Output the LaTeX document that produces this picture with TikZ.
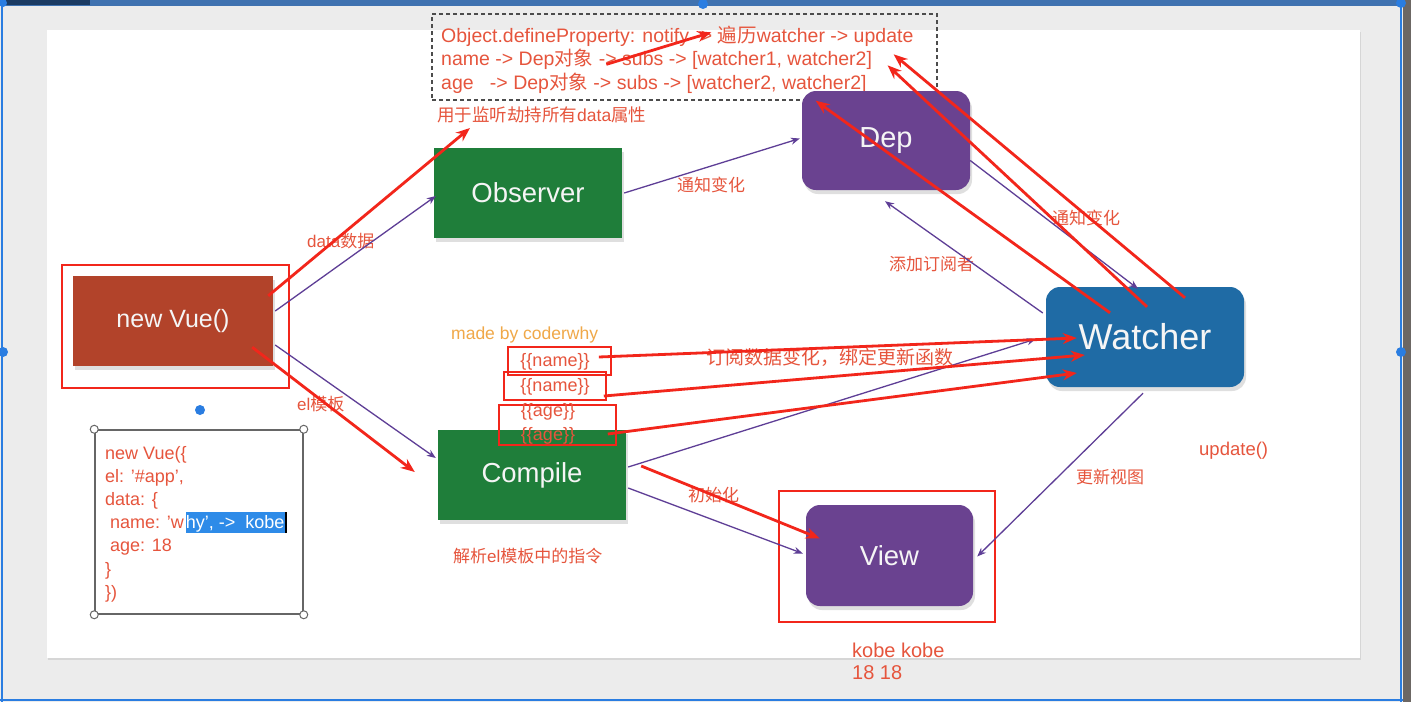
\documentclass[tikz,border=0pt]{standalone}
\usepackage{fontspec}
\setmainfont{Liberation Sans}
\newfontfamily\cjk{Noto Sans CJK SC}
\newcommand{\zhx}[1]{{\cjk #1}}
\usetikzlibrary{arrows.meta,shadows,calc}
\definecolor{bggray}{HTML}{ECECEC}
\definecolor{barblue}{HTML}{3F72B0}
\definecolor{barnavy}{HTML}{1B3B63}
\definecolor{handle}{HTML}{2A7DE1}
\definecolor{darkstrip}{HTML}{6C6764}
\definecolor{redtxt}{HTML}{E6553D}
\definecolor{redarr}{HTML}{F2261B}
\definecolor{purl}{HTML}{5E3E96}
\definecolor{grn}{HTML}{1F7E3A}
\definecolor{rust}{HTML}{B2432A}
\definecolor{deppur}{HTML}{6A4290}
\definecolor{wblue}{HTML}{1F6BA5}
\definecolor{orng}{HTML}{F0A848}
\definecolor{hlblue}{HTML}{2E8BE8}
\tikzset{
  x=1pt,y=-1pt,
  boxnode/.style={minimum width=#1, inner sep=0pt, text=white!92!gray, drop shadow={opacity=0.25,shadow xshift=2pt,shadow yshift=-4pt}},
  lbl/.style={text=redtxt, font=\fontsize{17}{19}\selectfont, inner sep=0pt, anchor=west},
  codeln/.style={text=redtxt, font=\fontsize{18}{20}\selectfont, inner sep=0pt, anchor=base west},
  dline/.style={text=redtxt, font=\fontsize{19.5}{21}\selectfont, inner sep=0pt, anchor=base west},
  parr/.style={draw=purl, line width=1.3pt, -{Stealth[length=9pt,width=7pt]}},
  rarr/.style={draw=redarr, line width=2.8pt, -{Stealth[length=14pt,width=11pt]}},
  tbox/.style={draw=redarr, line width=1.6pt, inner sep=0pt},
  tmpl/.style={text=redtxt, font=\fontsize{18}{20}\selectfont, inner sep=0pt},
}
\setlength{\fboxsep}{0pt}
\begin{document}
\begin{tikzpicture}
\useasboundingbox (0,0) rectangle (1411,702);
% frame
\fill[bggray] (0,0) rectangle (1411,702);
\fill[barblue] (0,0) rectangle (1411,6);
\fill[barnavy] (0,0) rectangle (90,5);
\fill[darkstrip] (1403,0) rectangle (1411,702);
\draw[handle, line width=2pt] (2,6) -- (2,702);
\draw[handle, line width=2pt] (1401,6) -- (1401,702);
\draw[handle, line width=2pt] (0,700) -- (1403,700);
\fill[handle] (703,4) circle (5);
\fill[handle] (3,352) circle (5);
\fill[handle] (1401,352) circle (5);
\fill[handle] (1401,3) circle (5);
\fill[handle] (3,3) circle (4);
% slide
\fill[white, drop shadow={opacity=0.2,shadow xshift=1pt,shadow yshift=-2pt}] (47,30) rectangle (1360,658);

% dashed box
\node[draw=black!70, dash pattern=on 4pt off 3pt, line width=1.3pt, minimum width=505pt, minimum height=86pt, inner sep=0pt] (dbox) at (684.5,57) {};
\node[dline] (l1) at (441,42) {Object.defineProperty: notify -> \zhx{遍历}watcher -> update};
\node[dline] (l2) at (441,65) {name -> Dep\zhx{对象} -> subs -> [watcher1, watcher2]};
\node[dline] (l3) at (441,89) {age\ \ \ -> Dep\zhx{对象} -> subs -> [watcher2, watcher2]};
\node[lbl, font=\fontsize{17.5}{19}\selectfont] (hijack) at (437,115) {\zhx{用于监听劫持所有}data\zhx{属性}};

% main nodes
\node[draw=redarr, line width=1.4pt, minimum width=227pt, minimum height=123pt, inner sep=0pt] (vueframe) at (175.5,326.5) {};
\node[boxnode=200pt, fill=rust, minimum height=90pt, font=\fontsize{25}{28}\selectfont] (vue) at (173,321) {new Vue()};
\node[boxnode=188pt, fill=grn, minimum height=90pt, font=\fontsize{27.5}{30}\selectfont] (observer) at (528,193) {Observer};
\node[boxnode=188pt, fill=grn, minimum height=90pt, font=\fontsize{27.5}{30}\selectfont] (compile) at (532,475) {Compile};
\node[boxnode=168pt, fill=deppur, minimum height=99pt, rounded corners=14pt, font=\fontsize{29}{32}\selectfont] (dep) at (886,140.5) {Dep};
\node[boxnode=198pt, fill=wblue, minimum height=100pt, rounded corners=14pt, font=\fontsize{36}{40}\selectfont] (watcher) at (1145,337) {Watcher};
\node[draw=redarr, line width=1.4pt, minimum width=216pt, minimum height=131pt, inner sep=0pt] (viewframe) at (887,556.5) {};
\node[boxnode=167pt, fill=deppur, minimum height=101pt, rounded corners=14pt, font=\fontsize{27.5}{30}\selectfont] (view) at (889.5,555.5) {View};

% code box
\fill[handle] (200,410) circle (5);
\node[draw=black!60, line width=1.5pt, minimum width=208pt, minimum height=184pt, inner sep=0pt] (code) at (199,522) {};
\foreach \c in {north west, north east, south west, south east}
  \filldraw[fill=white, draw=black!60, line width=1pt] (code.\c) circle (4);
\node[codeln] (c1) at (105,459) {new Vue(\{};
\node[codeln] (c2) at (105,482) {el: '\#app',};
\node[codeln] (c3) at (105,505) {data: \{};
\node[codeln] (c4) at (105,528) {\ name: 'w\hspace{2pt}\colorbox{hlblue}{\rule[-5pt]{0pt}{21pt}\textcolor{white}{hy', ->\hspace{10pt}kobe}\hspace{1pt}\textcolor{black}{\rule[-5pt]{1.5pt}{21pt}}}};
\node[codeln] (c5) at (105,551) {\ age: 18};
\node[codeln] (c6) at (105,575) {\}};
\node[codeln] (c7) at (105,598) {\})};

% template boxes
\node[text=orng, font=\fontsize{17.5}{19}\selectfont, inner sep=0pt, anchor=west] (made) at (451,335) {made by coderwhy};
\node[tbox, minimum width=103pt, minimum height=28pt] (tn1) at (559.5,361) {};
\node[tbox, minimum width=102pt, minimum height=28pt] (tn2) at (555,386) {};
\node[tbox, minimum width=117pt, minimum height=40pt] (tn3) at (557.5,425) {};
\node[tmpl] (tx1) at (555,362) {\{\{name\}\}};
\node[tmpl] (tx2) at (555,387) {\{\{name\}\}};
\node[tmpl] (tx3) at (548,412) {\{\{age\}\}};
\node[tmpl] (tx4) at (548,436) {\{\{age\}\}};

% labels
\node[lbl] (ldata) at (307,241) {data\zhx{数据}};
\node[lbl] (lel) at (297,404) {el\zhx{模板}};
\node[lbl] (lnot1) at (677,185) {\zhx{通知变化}};
\node[lbl] (lnot2) at (1052,218) {\zhx{通知变化}};
\node[lbl] (ladd) at (889,264) {\zhx{添加订阅者}};
\node[lbl, font=\fontsize{19}{21}\selectfont] (lsub) at (706,357) {\zhx{订阅数据变化，绑定更新函数}};
\node[lbl] (lupd) at (1076,477) {\zhx{更新视图}};
\node[lbl, font=\fontsize{18.5}{20}\selectfont] (lupdate) at (1199,451) {update()};
\node[lbl] (linit) at (688,495) {\zhx{初始化}};
\node[lbl] (lparse) at (453,556) {\zhx{解析}el\zhx{模板中的指令}};
\node[lbl, font=\fontsize{20}{22}\selectfont] (lkobe) at (852,650) {kobe kobe};
\node[lbl, font=\fontsize{20}{22}\selectfont] (l18) at (852,673) {18 18};

% purple connectors
\draw[parr] ($(vue.east)+(2,-10)$) -- ($(observer.west)+(2,3)$);
\draw[parr] ($(vue.east)+(2,24)$) -- ($(compile.west)+(-2,-17)$);
\draw[parr] ($(observer.east)+(2,0)$) -- ($(dep.west)+(-2,-2)$);
\draw[parr] ($(dep.east)+(0,20)$) -- ($(watcher.north)+(-7,2)$);
\draw[parr] ($(watcher.west)+(-3,-24)$) -- ($(dep.south)+(-1,11)$);
\draw[parr] ($(compile.east)+(2,-8)$) -- ($(watcher.west)+(-10,2)$);
\draw[parr] ($(compile.east)+(2,13)$) -- ($(view.west)+(-3,-2)$);
\draw[parr] ($(watcher.south)+(-2,6)$) -- ($(view.east)+(4,1)$);

% red arrows
\draw[rarr] ($(vue.north east)+(-5,20)$) -- ($(hijack.west)+(33,13)$);
\draw[rarr] ($(vue.south east)+(-21,-19)$) -- ($(compile.west)+(-23,-3)$);
\draw[rarr] ($(compile.east)+(15,-9)$) -- ($(view.west)+(14,-17)$);
\draw[rarr] ($(dbox.north west)+(175,51)$) -- ($(dbox.north west)+(280,19)$);
\draw[rarr] ($(watcher.north)+(40,11)$) -- ($(dbox.north east)+(-44,41)$);
\draw[rarr] ($(watcher.north)+(2,20)$) -- ($(dbox.north east)+(-50,52)$);
\draw[rarr] ($(watcher.north)+(-35,26)$) -- ($(dbox.south east)+(-122,0)$);
\draw[rarr] ($(tn1.east)+(-13,-4)$) -- ($(watcher.west)+(31,1)$);
\draw[rarr] ($(tn2.east)+(-3,10)$) -- ($(watcher.west)+(39,18)$);
\draw[rarr] ($(tn3.east)+(-9,9)$) -- ($(watcher.west)+(31,36)$);
\end{tikzpicture}
\end{document}
